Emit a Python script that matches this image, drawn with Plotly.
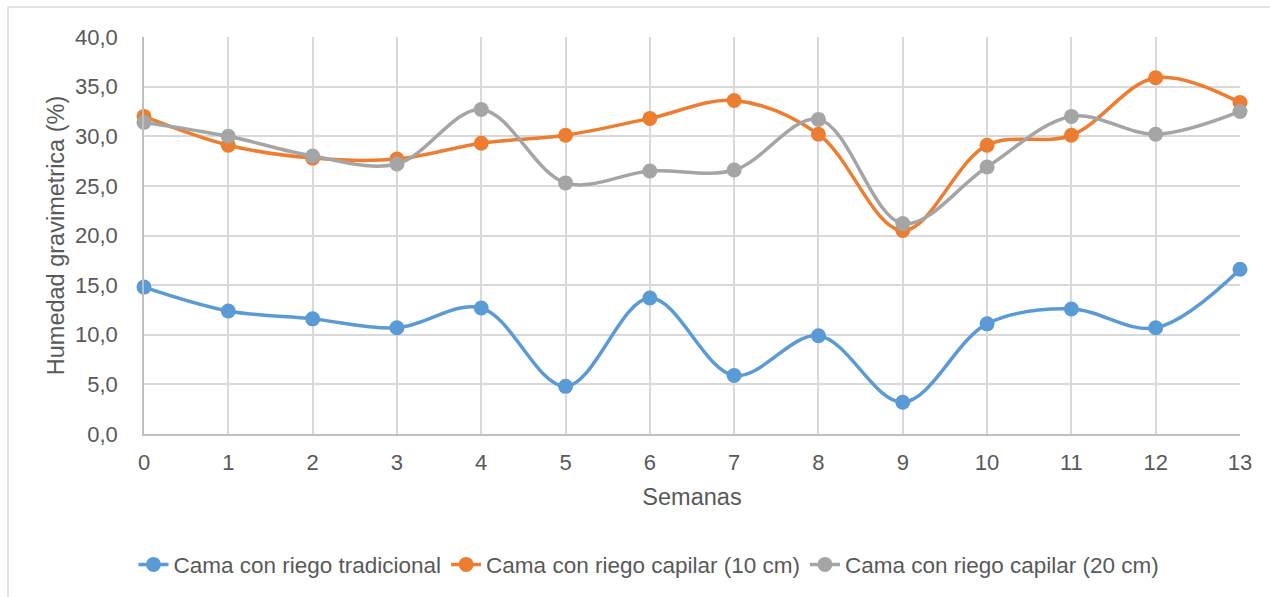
import plotly.graph_objects as go

# Weekly gravimetric soil moisture (%) for three bed types
semanas = list(range(14))
tradicional = [14.8, 12.4, 11.6, 10.7, 12.7, 4.8, 13.7, 5.9, 9.9, 3.2, 11.1, 12.6, 10.7, 16.6]
capilar_10 = [32.0, 29.1, 27.8, 27.7, 29.3, 30.1, 31.8, 33.6, 30.2, 20.5, 29.1, 30.1, 35.9, 33.4]
capilar_20 = [31.4, 30.0, 28.0, 27.2, 32.7, 25.3, 26.5, 26.6, 31.7, 21.2, 26.9, 32.0, 30.2, 32.5]

nombres = [
    "Cama con riego tradicional",
    "Cama con riego capilar (10 cm)",
    "Cama con riego capilar (20 cm)",
]
colores = ["#5B9BD5", "#ED7D31", "#A5A5A5"]

FONT = "Liberation Sans, Arial, sans-serif"
TXT = "#595959"

fig = go.Figure()
for serie, nombre, color in zip([tradicional, capilar_10, capilar_20], nombres, colores):
    fig.add_trace(go.Scatter(
        x=semanas, y=serie, name=nombre,
        mode="lines+markers",
        line=dict(color=color, width=3.5, shape="spline", smoothing=1),
        marker=dict(color=color, size=15),
        cliponaxis=False,
    ))

fig.update_layout(
    width=1270, height=597,
    margin=dict(l=144, r=30, t=37, b=163),
    paper_bgcolor="white", plot_bgcolor="white",
    separators=",.",
    font=dict(family=FONT, size=22, color=TXT),
    showlegend=True,
    legend=dict(
        orientation="h",
        xref="container", yref="container",
        x=0.511, y=0.054, xanchor="center", yanchor="middle",
        font=dict(size=22.5, color=TXT),
        itemwidth=30,
        tracegroupgap=0,
    ),
    shapes=[dict(
        type="rect", xref="paper", yref="paper",
        x0=(8 - 144) / 1096, x1=(1290 - 144) / 1096,
        y0=(434 - 620) / 397, y1=(434 - 7) / 397,
        line=dict(color="#D9D9D9", width=1.5), layer="below",
    )],
)

fig.update_xaxes(
    range=[0, 13], dtick=1, tick0=0,
    showgrid=True, gridcolor="#D9D9D9", gridwidth=1.5,
    showline=True, linecolor="#BFBFBF", linewidth=1.5,
    zeroline=False, ticks="", ticklabelstandoff=8,
    tickfont=dict(size=22, color=TXT),
    title=dict(text="Semanas", font=dict(size=23.5, color=TXT), standoff=14),
)
fig.update_yaxes(
    range=[0, 40], dtick=5, tick0=0, tickformat=".1f",
    showgrid=True, gridcolor="#D9D9D9", gridwidth=1.5,
    showline=True, linecolor="#BFBFBF", linewidth=1.5,
    zeroline=False, ticks="", ticklabelstandoff=20,
    tickfont=dict(size=22, color=TXT),
    title=dict(text="Humedad gravimetrica (%)", font=dict(size=23.5, color=TXT), standoff=4),
)

fig.write_html("out.html")
